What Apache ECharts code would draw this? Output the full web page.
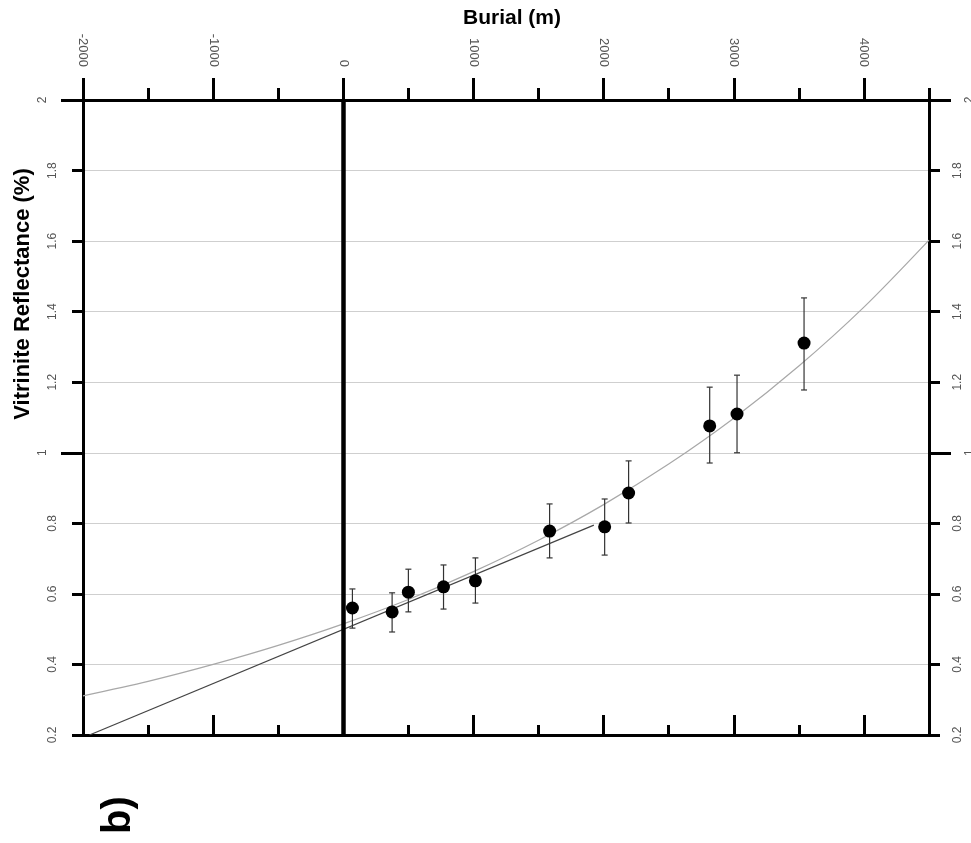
<!DOCTYPE html>
<html lang="en">
<head>
    <meta charset="UTF-8">
    <title>Burial vs Vitrinite Reflectance</title>
    <script src="https://cdn.jsdelivr.net/npm/echarts@6/dist/echarts.min.js"></script>
    <style>
        html, body { margin: 0; padding: 0; background: #fff; }
        #myCharts { width: 971px; height: 843px; }
    </style>
</head>
<body>
<div id="myCharts"></div>

<script>
    // measured samples
    const burial = [70, 375, 500, 770, 1015, 1585, 2008, 2192, 2815, 3025, 3540];
    const vr = [0.56, 0.549, 0.605, 0.62, 0.637, 0.778, 0.79, 0.886, 1.076, 1.11, 1.311];
    const vrLow = [0.503, 0.492, 0.549, 0.557, 0.574, 0.702, 0.710, 0.801, 0.971, 1.0, 1.178];
    const vrHigh = [0.614, 0.603, 0.670, 0.682, 0.702, 0.855, 0.869, 0.977, 1.186, 1.220, 1.439];

    // fitted curves
    const linearX = [-1950, 1925];
    const linearY = [0.2, 0.795];
    const curveX = [-2000, -1500, -1000, -500, 0, 500, 1000, 1500, 2000, 2500, 3000, 3500, 4000, 4500];
    const curveY = [0.311, 0.352, 0.400, 0.454, 0.515, 0.584, 0.663, 0.752, 0.853, 0.968, 1.098, 1.246, 1.413, 1.603];

    // axis ticks
    const xTicks = [-2000, -1500, -1000, -500, 0, 500, 1000, 1500, 2000, 2500, 3000, 3500, 4000, 4500];
    const xMajor = [-2000, -1000, 0, 1000, 2000, 3000, 4000];
    const yTicks = [0.2, 0.4, 0.6, 0.8, 1, 1.2, 1.4, 1.6, 1.8, 2];
    const yMajor = [1, 2];
    const yMinorLabels = yTicks.filter(v => yMajor.indexOf(v) < 0);

    const zip = (a, b) => a.map((v, i) => [v, b[i]]);

    const labelFont = {color: '#555', fontFamily: 'Liberation Sans, Arial, sans-serif', formatter: v => String(v)};

    let xAx = (pos, ticks, len, inside, labels, margin) => ({
        type: 'value', position: pos, min: -2000, max: 4500, interval: 500,
        axisLine: {show: true, onZero: false, lineStyle: {color: '#000', width: 3}},
        axisTick: {show: true, inside: inside, length: len, customValues: ticks,
            lineStyle: {color: '#000', width: 3}},
        axisLabel: labels ? Object.assign({show: true, customValues: labels, rotate: 90,
            margin: margin, fontSize: 13}, labelFont) : {show: false},
        splitLine: {show: false}
    });

    let yAx = (pos, ticks, len, labels, margin, split) => ({
        type: 'value', position: pos, min: 0.2, max: 2, interval: 0.2,
        axisLine: {show: true, onZero: false, lineStyle: {color: '#000', width: 3}},
        axisTick: {show: true, inside: false, length: len, customValues: ticks,
            lineStyle: {color: '#000', width: 3}},
        axisLabel: Object.assign({show: true, customValues: labels, rotate: 90,
            margin: margin, fontSize: 12}, labelFont),
        splitLine: {show: split, lineStyle: {color: '#cfcfcf', width: 1}}
    });

    let myChart = echarts.init(document.getElementById('myCharts'));
    myChart.setOption({
        backgroundColor: '#fff',
        animation: false,
        grid: {left: 83, top: 100, right: 42, bottom: 108, outerBoundsMode: 'none'},
        xAxis: [
            xAx('top', xTicks, 12, false, null, 0),
            xAx('top', xMajor, 22, false, xMajor, 33),
            xAx('bottom', xTicks, 10, true, null, 0),
            xAx('bottom', xMajor, 20, true, null, 0)
        ],
        yAxis: [
            yAx('left', yTicks, 11, yMinorLabels, 24, true),
            yAx('left', yMajor, 22, yMajor, 34, false),
            yAx('right', yTicks, 11, yMinorLabels, 23, false),
            yAx('right', yMajor, 22, yMajor, 35, false)
        ],
        graphic: [
            {type: 'text', x: 512, y: 18,
                style: {text: 'Burial (m)', font: 'bold 21px Liberation Sans, Arial, sans-serif', fill: '#000',
                    align: 'center', verticalAlign: 'middle'}},
            {type: 'text', x: 23, y: 294, rotation: Math.PI / 2,
                style: {text: 'Vitrinite Reflectance (%)', font: 'bold 22px Liberation Sans, Arial, sans-serif',
                    fill: '#000', align: 'center', verticalAlign: 'middle'}},
            {type: 'text', x: 119, y: 815, rotation: Math.PI / 2,
                style: {text: 'b)', font: 'bold 40px Liberation Sans, Arial, sans-serif',
                    fill: '#000', align: 'center', verticalAlign: 'middle'}}
        ],
        series: [
            {
                type: 'line', name: 'exp fit', data: zip(curveX, curveY), smooth: 0.3,
                showSymbol: false, lineStyle: {color: '#a8a8a8', width: 1.2}, z: 2,
                markLine: {
                    silent: true, symbol: 'none', label: {show: false},
                    lineStyle: {color: '#000', width: 4.5, type: 'solid'},
                    data: [{xAxis: 0}]
                }
            },
            {
                type: 'line', name: 'linear fit', data: zip(linearX, linearY),
                showSymbol: false, lineStyle: {color: '#444', width: 1.2}, z: 2
            },
            {
                type: 'custom', name: 'error',
                data: burial.map((b, i) => [b, vrLow[i], vrHigh[i]]),
                z: 3,
                renderItem: (params, api) => {
                    const lo = api.coord([api.value(0), api.value(1)]);
                    const hi = api.coord([api.value(0), api.value(2)]);
                    const st = {stroke: '#333', lineWidth: 1.2};
                    return {
                        type: 'group',
                        children: [
                            {type: 'line', shape: {x1: lo[0], y1: lo[1], x2: hi[0], y2: hi[1]}, style: st},
                            {type: 'line', shape: {x1: lo[0] - 3, y1: lo[1], x2: lo[0] + 3, y2: lo[1]}, style: st},
                            {type: 'line', shape: {x1: hi[0] - 3, y1: hi[1], x2: hi[0] + 3, y2: hi[1]}, style: st}
                        ]
                    };
                }
            },
            {
                type: 'scatter', name: 'samples', data: zip(burial, vr),
                symbol: 'circle', symbolSize: 13, itemStyle: {color: '#000', opacity: 1}, z: 4
            }
        ]
    });
</script>

</body>
</html>
